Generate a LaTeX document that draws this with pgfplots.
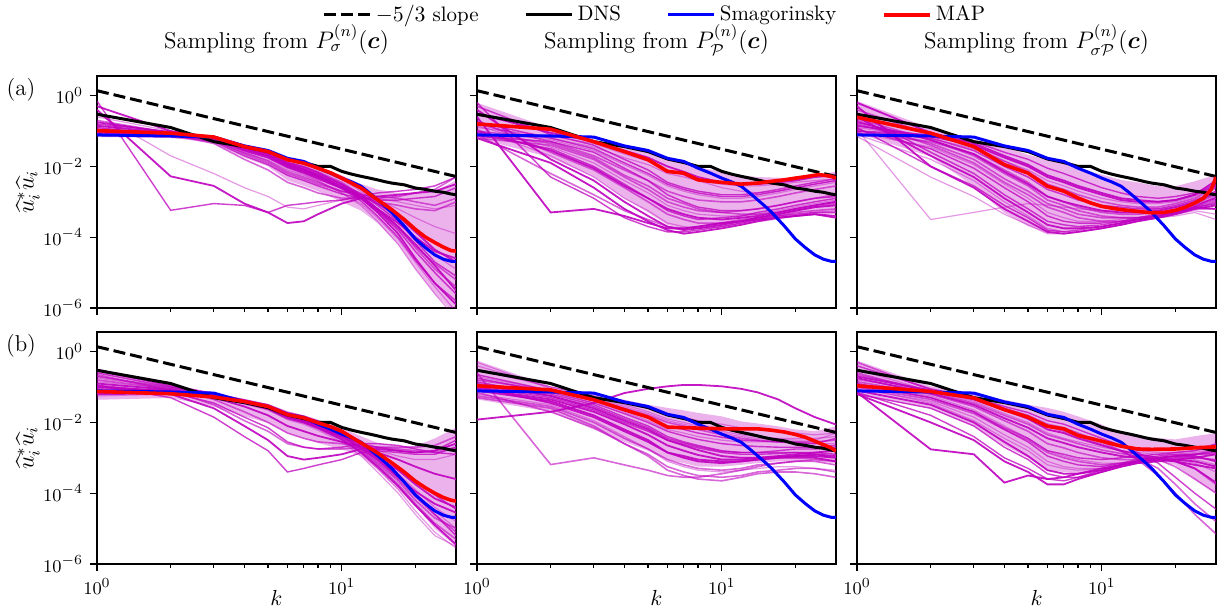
\documentclass[border=0pt]{standalone}
\usepackage{amsmath}
\usepackage{pgfplots}
\usepackage{pgfplotstable}
\pgfplotsset{compat=1.18}
\usepgfplotslibrary{groupplots,fillbetween}
\definecolor{sampc}{RGB}{191,0,191}
\definecolor{smagc}{RGB}{0,0,255}
\definecolor{mapc}{RGB}{255,0,0}

% reference curves (log10 values)
\pgfplotstableread{
k dns smag
1 -0.526 -1.11
2 -0.90 -1.14
3 -1.30 -1.17
4 -1.44 -1.42
5 -1.58 -1.55
6 -1.79 -1.77
7 -1.89 -1.86
8 -2.00 -2.05
9 -2.00 -2.19
10 -2.14 -2.33
11 -2.22 -2.44
12 -2.28 -2.56
13 -2.33 -2.75
14 -2.38 -2.94
15 -2.43 -3.12
16 -2.47 -3.30
18 -2.52 -3.68
20 -2.61 -4.05
22 -2.65 -4.30
24 -2.70 -4.50
26 -2.73 -4.62
28 -2.78 -4.68
29.3 -2.80 -4.68
}\tref

\pgfplotstableread{
k m
1 -0.99
2 -1.06
3 -1.17
4 -1.44
5 -1.58
6 -1.81
7 -1.91
8 -2.05
9 -2.18
10 -2.33
12 -2.61
14 -2.94
16 -3.22
18 -3.50
20 -3.78
22 -4.00
24 -4.15
26 -4.28
28 -4.38
29.3 -4.39
}\mA
\pgfplotstableread{
k m
1 -0.80
2 -0.95
3 -1.30
4 -1.58
5 -1.81
6 -2.14
7 -2.19
8 -2.38
9 -2.42
10 -2.45
12 -2.50
14 -2.47
16 -2.42
18 -2.38
20 -2.33
22 -2.29
25 -2.23
28 -2.28
29.3 -2.33
}\mB
\pgfplotstableread{
k m
1 -0.61
2 -1.06
3 -1.44
4 -1.95
5 -2.19
6 -2.56
7 -2.70
8 -2.89
9 -3.03
10 -3.13
12 -3.22
14 -3.27
16 -3.31
18 -3.30
20 -3.24
22 -3.15
24 -3.03
26 -2.90
28 -2.65
29.3 -2.30
}\mC
\pgfplotstableread{
k m
1 -1.125
2 -1.19
3 -1.28
4 -1.41
5 -1.55
6 -1.78
7 -1.87
8 -2.01
9 -2.12
10 -2.25
12 -2.58
14 -2.86
16 -3.14
18 -3.40
20 -3.66
22 -3.85
24 -4.00
26 -4.12
28 -4.20
29.3 -4.22
}\mD
\pgfplotstableread{
k m
1 -0.965
2 -1.08
3 -1.36
4 -1.64
5 -1.85
6 -2.13
7 -2.15
8 -2.16
10 -2.18
12 -2.18
14 -2.18
16 -2.22
18 -2.27
20 -2.34
22 -2.42
25 -2.58
28 -2.72
29.3 -2.81
}\mE
\pgfplotstableread{
k m
1 -0.965
2 -1.125
3 -1.31
4 -1.64
5 -1.85
6 -2.11
7 -2.18
8 -2.37
9 -2.45
10 -2.53
12 -2.67
14 -2.75
16 -2.76
20 -2.75
25 -2.71
29.3 -2.69
}\mF

% dense core of the sample bundles (log10 of upper and lower edge)
\pgfplotstableread{
k hi lo
1 -0.80 -1.15
2 -1.02 -1.18
3 -1.12 -1.35
4 -1.38 -1.75
5 -1.52 -2.00
6 -1.76 -2.40
7 -1.86 -2.55
8 -2.00 -2.70
10 -2.25 -3.00
12 -2.50 -3.25
14 -2.65 -3.60
17 -2.75 -4.20
20 -2.75 -4.90
24 -2.70 -5.60
29.3 -2.40 -6.20
}\eA
\pgfplotstableread{
k hi lo
1 -0.20 -1.20
2 -0.92 -1.75
3 -1.25 -2.30
4 -1.45 -2.90
5 -1.60 -3.30
6 -1.82 -3.65
7 -1.92 -3.75
8 -2.02 -3.78
10 -2.15 -3.72
12 -2.25 -3.65
14 -2.30 -3.58
17 -2.32 -3.50
20 -2.32 -3.42
24 -2.25 -3.35
29.3 -2.15 -3.35
}\eB
\pgfplotstableread{
k hi lo
1 -0.15 -1.06
2 -0.92 -1.72
3 -1.25 -2.56
4 -1.44 -3.31
5 -1.67 -3.69
6 -1.81 -3.88
7 -1.92 -3.85
8 -2.05 -3.78
10 -2.23 -3.60
12 -2.38 -3.50
14 -2.45 -3.45
17 -2.56 -3.41
20 -2.56 -3.31
24 -2.42 -3.13
29.3 -2.23 -3.13
}\eC
\pgfplotstableread{
k hi lo
1 -0.50 -1.36
2 -1.03 -1.31
3 -1.20 -1.55
4 -1.34 -1.83
5 -1.48 -2.01
6 -1.68 -2.30
7 -1.80 -2.45
8 -1.92 -2.58
10 -2.16 -2.76
12 -2.39 -2.95
14 -2.58 -3.33
17 -2.67 -3.89
20 -2.67 -4.36
24 -2.45 -5.00
29.3 -2.15 -5.50
}\eD
\pgfplotstableread{
k hi lo
1 -0.25 -1.35
2 -0.98 -1.70
3 -1.22 -2.20
4 -1.36 -2.55
5 -1.50 -2.80
6 -1.59 -3.05
7 -1.66 -3.15
8 -1.73 -3.25
10 -1.83 -3.25
12 -1.97 -3.20
14 -2.03 -3.15
17 -2.11 -3.10
20 -2.20 -3.10
24 -2.25 -3.10
29.3 -2.11 -3.15
}\eE
\pgfplotstableread{
k hi lo
1 -0.25 -1.22
2 -0.98 -1.60
3 -1.17 -2.10
4 -1.36 -2.65
5 -1.50 -3.00
6 -1.59 -3.35
7 -1.70 -3.40
8 -1.83 -3.45
10 -2.06 -3.30
12 -2.30 -3.20
14 -2.38 -3.15
17 -2.44 -3.10
20 -2.48 -3.20
24 -2.39 -3.60
29.3 -2.30 -4.00
}\eF

% samples: one row per sample, columns are k
\pgfplotstableread[header=has colnames]{
id 1 2 3 4 5 6 7 8 10 12 14 17 20 24 29.3
s1 -0.95 -1.05 -1.15 -1.40 -1.55 -1.80 -1.92 -2.08 -2.38 -2.70 -3.05 -3.50 -4.00 -4.50 -4.90
s2 -1.05 -1.10 -1.20 -1.45 -1.62 -1.88 -2.00 -2.15 -2.45 -2.80 -3.20 -3.70 -4.30 -4.90 -5.40
s3 -0.80 -1.02 -1.18 -1.50 -1.70 -1.95 -2.08 -2.22 -2.50 -2.78 -3.10 -3.55 -4.10 -4.70 -5.10
s4 -1.10 -1.15 -1.22 -1.55 -1.75 -2.02 -2.18 -2.35 -2.62 -2.90 -3.30 -3.90 -4.60 -5.30 -5.90
s5 -0.60 -1.00 -1.16 -1.45 -1.62 -1.90 -2.05 -2.25 -2.55 -2.75 -2.95 -3.20 -3.45 -3.70 -3.90
s6 -1.00 -1.08 -1.25 -1.60 -1.85 -2.15 -2.30 -2.45 -2.70 -2.85 -3.00 -3.10 -3.20 -3.25 -3.00
s7 -0.90 -1.12 -1.30 -1.70 -1.95 -2.25 -2.40 -2.55 -2.78 -2.90 -2.95 -2.95 -2.90 -2.85 -2.60
s8 -0.30 -1.00 -1.20 -1.50 -1.70 -2.00 -2.15 -2.30 -2.58 -2.82 -3.05 -3.40 -3.85 -4.35 -4.70
s9 -1.15 -1.18 -1.28 -1.62 -1.82 -2.10 -2.25 -2.42 -2.75 -3.05 -3.45 -4.05 -4.70 -5.40 -6.10
s10 -0.70 -1.05 -1.20 -1.48 -1.66 -1.95 -2.10 -2.28 -2.60 -2.92 -3.25 -3.75 -4.25 -4.75 -5.20
s11 -0.15 -3.24 -3.05 -3.10 -3.30 -3.10 -3.05 -3.00 -2.95 -2.85 -2.75 -2.70 -2.65 -2.55 -2.30
s12 -0.40 -2.28 -2.55 -3.05 -3.30 -3.60 -3.55 -3.35 -3.05 -2.90 -2.85 -2.80 -2.75 -2.70 -2.50
s13 -0.50 -1.70 -2.20 -2.60 -2.85 -3.15 -3.20 -3.10 -2.95 -2.85 -2.90 -3.00 -3.10 -3.20 -3.10
s14 -1.00 -1.10 -1.35 -1.80 -2.10 -2.45 -2.60 -2.75 -2.90 -2.90 -2.90 -2.85 -2.75 -2.65 -2.30
s15 -1.08 -1.12 -1.22 -1.52 -1.70 -1.98 -2.12 -2.30 -2.62 -2.98 -3.40 -4.00 -4.65 -5.30 -5.80
s16 -0.85 -1.06 -1.17 -1.46 -1.62 -1.90 -2.02 -2.18 -2.50 -2.84 -3.20 -3.70 -4.20 -4.80 -5.50
s17 -1.12 -1.14 -1.24 -1.56 -1.76 -2.05 -2.22 -2.40 -2.75 -3.10 -3.55 -4.20 -4.90 -5.60 -6.30
s18 -0.95 -1.08 -1.26 -1.65 -1.90 -2.20 -2.35 -2.50 -2.70 -2.80 -2.85 -2.90 -3.00 -3.10 -2.90
s19 -1.05 -1.10 -1.21 -1.50 -1.68 -1.96 -2.10 -2.25 -2.55 -2.88 -3.25 -3.80 -4.40 -5.00 -5.60
s20 -0.75 -1.04 -1.19 -1.48 -1.65 -1.93 -2.08 -2.25 -2.58 -2.88 -3.20 -3.60 -4.00 -4.40 -4.60
}\rawA
\pgfplotstableread[header=has colnames]{
id 1 2 3 4 5 6 7 8 10 12 14 17 20 24 29.3
s1 -1.00 -1.20 -1.45 -1.75 -1.95 -2.20 -2.30 -2.40 -2.50 -2.55 -2.55 -2.50 -2.45 -2.40 -2.35
s2 -0.80 -1.30 -1.70 -2.10 -2.40 -2.70 -2.85 -2.95 -3.00 -3.00 -2.95 -2.85 -2.75 -2.65 -2.55
s3 -1.10 -1.50 -2.00 -2.50 -2.90 -3.25 -3.40 -3.50 -3.45 -3.40 -3.30 -3.20 -3.10 -3.00 -2.90
s4 -0.40 -1.80 -2.40 -3.00 -3.40 -3.70 -3.80 -3.75 -3.65 -3.55 -3.45 -3.35 -3.25 -3.15 -3.10
s5 -0.90 -1.15 -1.35 -1.65 -1.85 -2.10 -2.25 -2.40 -2.60 -2.70 -2.75 -2.70 -2.60 -2.50 -2.40
s6 -1.20 -1.40 -1.80 -2.30 -2.65 -3.00 -3.15 -3.25 -3.30 -3.25 -3.20 -3.10 -3.00 -2.90 -2.80
s7 -0.20 -2.30 -2.90 -3.45 -3.70 -3.85 -3.85 -3.80 -3.70 -3.60 -3.50 -3.40 -3.35 -3.30 -3.30
s8 -0.60 -3.30 -3.20 -3.40 -3.60 -3.75 -3.75 -3.70 -3.60 -3.55 -3.50 -3.45 -3.40 -3.35 -3.45
s9 -1.00 -1.25 -1.55 -1.95 -2.25 -2.55 -2.70 -2.80 -2.90 -2.90 -2.85 -2.75 -2.65 -2.55 -2.45
s10 -0.70 -1.60 -2.10 -2.60 -3.00 -3.35 -3.50 -3.60 -3.60 -3.55 -3.45 -3.35 -3.25 -3.15 -3.05
s11 -1.15 -1.30 -1.60 -2.05 -2.40 -2.80 -3.00 -3.15 -3.25 -3.25 -3.20 -3.10 -3.00 -2.90 -2.85
s12 -0.50 -1.05 -1.30 -1.55 -1.75 -2.00 -2.15 -2.30 -2.45 -2.50 -2.50 -2.45 -2.40 -2.30 -2.25
s13 -0.95 -1.70 -2.30 -2.90 -3.25 -3.60 -3.70 -3.75 -3.70 -3.60 -3.55 -3.45 -3.40 -3.30 -3.25
s14 -1.05 -1.35 -1.75 -2.25 -2.55 -2.90 -3.05 -3.20 -3.30 -3.35 -3.35 -3.30 -3.20 -3.10 -3.00
s15 -0.30 -1.10 -1.40 -1.80 -2.10 -2.45 -2.60 -2.70 -2.80 -2.80 -2.75 -2.65 -2.55 -2.45 -2.35
s16 -1.20 -1.90 -2.60 -3.20 -3.55 -3.80 -3.90 -3.85 -3.75 -3.65 -3.55 -3.45 -3.40 -3.35 -3.40
s17 -0.85 -1.45 -1.90 -2.40 -2.75 -3.10 -3.25 -3.35 -3.40 -3.40 -3.35 -3.25 -3.15 -3.05 -2.95
s18 -1.10 -2.20 -2.80 -3.25 -3.50 -3.70 -3.75 -3.70 -3.60 -3.50 -3.45 -3.40 -3.30 -3.25 -3.20
s19 -0.75 -1.20 -1.50 -1.90 -2.20 -2.50 -2.65 -2.75 -2.85 -2.85 -2.80 -2.70 -2.60 -2.50 -2.40
s20 -1.00 -1.55 -2.05 -2.55 -2.90 -3.20 -3.35 -3.45 -3.50 -3.45 -3.40 -3.30 -3.20 -3.10 -3.00
}\rawB
\pgfplotstableread[header=has colnames]{
id 1 2 3 4 5 6 7 8 10 12 14 17 20 24 29.3
s1 -0.90 -1.20 -1.50 -1.85 -2.10 -2.40 -2.55 -2.70 -2.90 -3.00 -3.05 -3.05 -3.00 -2.85 -2.60
s2 -0.70 -1.40 -1.90 -2.45 -2.80 -3.15 -3.30 -3.45 -3.55 -3.55 -3.50 -3.45 -3.35 -3.20 -3.00
s3 -1.00 -1.10 -1.30 -1.60 -1.80 -2.05 -2.20 -2.35 -2.60 -2.75 -2.85 -2.90 -2.85 -2.75 -2.50
s4 -0.30 -2.00 -2.60 -3.20 -3.55 -3.85 -3.90 -3.85 -3.75 -3.65 -3.55 -3.45 -3.35 -3.20 -3.10
s5 -0.95 -3.50 -3.30 -3.15 -3.05 -3.10 -3.15 -3.20 -3.25 -3.25 -3.25 -3.20 -3.15 -3.05 -2.90
s6 -1.05 -1.30 -1.65 -2.10 -2.45 -2.85 -3.00 -3.15 -3.30 -3.35 -3.35 -3.30 -3.20 -3.05 -2.80
s7 -0.50 -1.60 -2.20 -2.80 -3.20 -3.55 -3.65 -3.70 -3.65 -3.55 -3.45 -3.35 -3.25 -3.10 -2.90
s8 -0.85 -1.15 -1.40 -1.75 -2.00 -2.30 -2.45 -2.60 -2.80 -2.95 -3.00 -3.00 -2.95 -2.80 -2.55
s9 -1.10 -1.80 -2.40 -3.00 -3.40 -3.75 -3.85 -3.85 -3.75 -3.65 -3.55 -3.45 -3.35 -3.25 -3.35
s10 -0.65 -1.25 -1.70 -2.20 -2.55 -2.95 -3.10 -3.25 -3.40 -3.45 -3.45 -3.40 -3.30 -3.15 -2.95
s11 -0.95 -1.50 -2.05 -2.60 -3.00 -3.40 -3.55 -3.60 -3.60 -3.55 -3.50 -3.40 -3.30 -3.15 -3.05
s12 -0.20 -1.05 -1.35 -1.70 -1.95 -2.25 -2.40 -2.55 -2.75 -2.90 -2.95 -3.00 -2.95 -2.80 -2.40
s13 -1.15 -2.30 -2.85 -3.35 -3.65 -3.90 -3.90 -3.85 -3.75 -3.65 -3.55 -3.45 -3.40 -3.30 -3.50
s14 -0.80 -1.35 -1.80 -2.35 -2.70 -3.05 -3.20 -3.35 -3.45 -3.45 -3.45 -3.40 -3.30 -3.15 -2.85
s15 -1.00 -1.20 -1.55 -2.00 -2.30 -2.65 -2.80 -2.95 -3.10 -3.15 -3.20 -3.20 -3.10 -2.95 -2.70
s16 -0.60 -1.70 -2.30 -2.90 -3.30 -3.65 -3.75 -3.75 -3.70 -3.60 -3.50 -3.40 -3.30 -3.15 -3.20
s17 -1.05 -1.45 -1.95 -2.50 -2.90 -3.30 -3.45 -3.55 -3.55 -3.50 -3.45 -3.35 -3.25 -3.10 -2.90
s18 -0.40 -1.10 -1.45 -1.85 -2.15 -2.50 -2.65 -2.80 -3.00 -3.10 -3.15 -3.15 -3.05 -2.90 -2.60
s19 -0.90 -2.00 -2.55 -3.10 -3.45 -3.80 -3.85 -3.80 -3.70 -3.60 -3.50 -3.40 -3.30 -3.20 -3.20
s20 -0.75 -1.25 -1.65 -2.15 -2.50 -2.85 -3.00 -3.10 -3.25 -3.30 -3.30 -3.25 -3.15 -3.00 -2.75
}\rawC
\pgfplotstableread[header=has colnames]{
id 1 2 3 4 5 6 7 8 10 12 14 17 20 24 29.3
s1 -0.70 -1.00 -1.20 -1.38 -1.52 -1.75 -1.85 -2.00 -2.28 -2.62 -2.95 -3.45 -3.90 -4.40 -4.80
s2 -1.00 -1.10 -1.25 -1.42 -1.58 -1.82 -1.93 -2.08 -2.38 -2.75 -3.10 -3.60 -4.10 -4.60 -5.10
s3 -0.55 -0.95 -1.18 -1.36 -1.50 -1.72 -1.82 -1.96 -2.22 -2.55 -2.85 -3.25 -3.65 -4.05 -4.45
s4 -1.20 -1.18 -1.28 -1.45 -1.62 -1.88 -2.00 -2.16 -2.48 -2.85 -3.25 -3.80 -4.35 -4.90 -5.45
s5 -0.85 -1.05 -1.22 -1.40 -1.56 -1.80 -1.92 -2.06 -2.32 -2.60 -2.80 -2.95 -3.05 -3.05 -2.90
s6 -0.65 -1.10 -1.50 -1.95 -2.25 -2.60 -2.70 -2.75 -2.75 -2.70 -2.70 -2.70 -2.70 -2.65 -2.40
s7 -0.95 -1.30 -1.85 -2.40 -2.80 -3.40 -3.30 -3.20 -3.05 -2.85 -2.80 -2.85 -2.90 -2.90 -2.70
s8 -1.10 -1.20 -1.60 -2.10 -2.50 -2.95 -3.05 -3.00 -2.90 -2.75 -2.75 -2.80 -2.85 -2.80 -2.60
s9 -0.75 -1.02 -1.21 -1.39 -1.55 -1.78 -1.90 -2.05 -2.35 -2.68 -3.00 -3.50 -4.00 -4.50 -5.00
s10 -1.05 -1.12 -1.26 -1.44 -1.60 -1.85 -1.97 -2.12 -2.45 -2.82 -3.20 -3.75 -4.30 -4.85 -5.30
s11 -0.60 -1.00 -1.20 -1.40 -1.60 -1.85 -2.00 -2.15 -2.40 -2.60 -2.70 -2.80 -2.85 -2.80 -2.50
s12 -0.90 -1.08 -1.24 -1.42 -1.57 -1.80 -1.92 -2.06 -2.36 -2.72 -3.05 -3.55 -3.95 -4.30 -4.55
s13 -1.15 -1.15 -1.27 -1.46 -1.63 -1.90 -2.02 -2.18 -2.50 -2.88 -3.30 -3.90 -4.50 -5.10 -5.55
s14 -0.80 -1.05 -1.35 -1.70 -2.00 -2.30 -2.45 -2.55 -2.60 -2.65 -2.70 -2.75 -2.80 -2.85 -2.70
s15 -0.50 -0.98 -1.19 -1.37 -1.52 -1.76 -1.88 -2.02 -2.30 -2.65 -3.00 -3.50 -4.05 -4.60 -5.20
s16 -1.00 -1.12 -1.30 -1.55 -1.80 -2.10 -2.25 -2.38 -2.55 -2.70 -2.85 -3.05 -3.25 -3.45 -3.60
s17 -1.25 -1.20 -1.30 -1.48 -1.65 -1.92 -2.05 -2.22 -2.55 -2.95 -3.40 -4.00 -4.60 -5.20 -5.50
s18 -0.70 -1.03 -1.22 -1.41 -1.58 -1.83 -1.95 -2.10 -2.42 -2.78 -3.15 -3.65 -4.20 -4.70 -5.00
s19 -0.95 -1.15 -1.45 -1.85 -2.15 -2.55 -2.70 -2.75 -2.70 -2.60 -2.60 -2.65 -2.75 -2.85 -2.90
s20 -1.10 -1.10 -1.23 -1.43 -1.59 -1.84 -1.96 -2.12 -2.40 -2.70 -2.98 -3.35 -3.75 -4.15 -4.40
}\rawD
\pgfplotstableread[header=has colnames]{
id 1 2 3 4 5 6 7 8 10 12 14 17 20 24 29.3
s1 -0.40 -1.00 -1.25 -1.50 -1.70 -1.90 -2.00 -2.10 -2.25 -2.35 -2.40 -2.45 -2.45 -2.45 -2.40
s2 -0.80 -1.10 -1.35 -1.60 -1.80 -2.00 -2.10 -2.20 -2.35 -2.45 -2.50 -2.55 -2.55 -2.55 -2.50
s3 -1.00 -1.30 -1.65 -2.00 -2.25 -2.50 -2.62 -2.72 -2.85 -2.90 -2.90 -2.88 -2.85 -2.85 -2.90
s4 -1.92 -1.70 -1.45 -1.17 -1.05 -0.98 -0.94 -0.94 -0.98 -1.05 -1.15 -1.35 -1.60 -1.85 -2.06
s5 -1.20 -1.50 -1.95 -2.40 -2.75 -3.10 -3.25 -3.35 -3.40 -3.35 -3.30 -3.25 -3.25 -3.30 -3.35
s6 -0.60 -3.19 -3.00 -3.20 -3.35 -3.50 -3.55 -3.55 -3.45 -3.35 -3.25 -3.15 -3.10 -3.05 -3.10
s7 -0.90 -1.20 -1.50 -1.85 -2.10 -2.40 -2.55 -2.65 -2.80 -2.85 -2.85 -2.80 -2.75 -2.75 -2.70
s8 -1.10 -1.40 -1.80 -2.20 -2.50 -2.85 -3.00 -3.10 -3.15 -3.10 -3.05 -3.00 -3.00 -3.00 -3.10
s9 -0.30 -1.05 -1.30 -1.55 -1.75 -1.95 -2.05 -2.15 -2.30 -2.40 -2.45 -2.48 -2.50 -2.50 -2.30
s10 -1.30 -1.60 -2.10 -2.60 -2.95 -3.35 -3.50 -3.60 -3.65 -3.55 -3.45 -3.40 -3.40 -3.45 -3.55
s11 -0.75 -1.15 -1.45 -1.75 -2.00 -2.25 -2.38 -2.48 -2.60 -2.65 -2.68 -2.70 -2.70 -2.70 -2.65
s12 -0.95 -1.25 -1.60 -1.95 -2.20 -2.50 -2.65 -2.78 -2.95 -3.00 -3.00 -2.98 -2.95 -2.95 -3.00
s13 -0.50 -1.00 -1.20 -1.40 -1.55 -1.75 -1.85 -1.95 -2.05 -2.15 -2.20 -2.25 -2.30 -2.35 -2.30
s14 -1.15 -1.70 -2.15 -2.60 -2.90 -3.25 -3.40 -3.50 -3.55 -3.50 -3.40 -3.35 -3.30 -3.30 -3.40
s15 -0.85 -1.25 -1.55 -1.90 -2.15 -2.45 -2.58 -2.68 -2.82 -2.85 -2.85 -2.85 -2.85 -2.90 -3.00
s16 -1.05 -1.35 -1.70 -2.05 -2.35 -2.65 -2.80 -2.92 -3.05 -3.05 -3.00 -2.95 -2.90 -2.85 -2.80
s17 -0.70 -1.10 -1.40 -1.70 -1.95 -2.20 -2.30 -2.40 -2.50 -2.55 -2.55 -2.55 -2.55 -2.60 -2.60
s18 -1.25 -1.55 -2.00 -2.45 -2.75 -3.05 -3.20 -3.30 -3.35 -3.30 -3.20 -3.15 -3.10 -3.10 -3.20
s19 -0.65 -1.10 -1.35 -1.65 -1.85 -2.10 -2.20 -2.30 -2.42 -2.50 -2.52 -2.55 -2.58 -2.60 -2.45
s20 -1.00 -1.45 -1.85 -2.25 -2.55 -2.85 -2.95 -3.05 -3.10 -3.10 -3.05 -3.00 -2.95 -2.90 -2.95
}\rawE
\pgfplotstableread[header=has colnames]{
id 1 2 3 4 5 6 7 8 10 12 14 17 20 24 29.3
s1 -0.80 -1.10 -1.35 -1.65 -1.85 -2.10 -2.20 -2.35 -2.55 -2.70 -2.80 -2.85 -2.85 -2.80 -2.70
s2 -1.00 -1.35 -1.75 -2.20 -2.50 -2.85 -3.00 -3.10 -3.20 -3.15 -3.10 -3.00 -2.95 -2.90 -2.90
s3 -0.40 -1.05 -1.30 -1.55 -1.72 -1.95 -2.05 -2.20 -2.45 -2.65 -2.85 -3.15 -3.55 -4.00 -4.45
s4 -1.15 -2.76 -2.90 -3.70 -3.50 -3.60 -3.55 -3.45 -3.30 -3.20 -3.10 -3.00 -2.95 -2.95 -3.10
s5 -0.90 -1.25 -1.65 -2.10 -2.45 -2.80 -2.95 -3.05 -3.15 -3.15 -3.10 -3.05 -3.05 -3.15 -3.40
s6 -0.60 -1.15 -1.45 -1.80 -2.05 -2.35 -2.48 -2.60 -2.78 -2.88 -2.95 -3.05 -3.25 -3.60 -4.00
s7 -1.20 -1.60 -2.10 -2.70 -3.05 -3.45 -3.55 -3.55 -3.40 -3.25 -3.15 -3.05 -3.00 -3.00 -3.05
s8 -0.70 -1.10 -1.35 -1.65 -1.90 -2.20 -2.30 -2.45 -2.65 -2.80 -2.90 -3.00 -3.10 -3.20 -3.30
s9 -1.05 -1.40 -1.85 -2.35 -2.70 -3.10 -3.25 -3.30 -3.30 -3.20 -3.10 -3.00 -2.95 -2.90 -2.75
s10 -0.30 -1.08 -1.32 -1.60 -1.80 -2.05 -2.15 -2.30 -2.55 -2.80 -3.05 -3.50 -4.00 -4.60 -5.15
s11 -0.95 -1.30 -1.70 -2.15 -2.45 -2.80 -2.90 -3.00 -3.05 -3.00 -2.95 -2.90 -2.85 -2.80 -2.60
s12 -1.10 -1.50 -2.00 -2.55 -2.95 -3.35 -3.45 -3.45 -3.35 -3.20 -3.10 -3.05 -3.10 -3.30 -3.70
s13 -0.50 -1.12 -1.40 -1.75 -2.00 -2.30 -2.45 -2.55 -2.70 -2.80 -2.85 -2.90 -2.90 -2.85 -2.75
s14 -0.85 -1.20 -1.55 -1.95 -2.25 -2.60 -2.72 -2.85 -3.00 -3.05 -3.05 -3.05 -3.10 -3.30 -3.75
s15 -1.15 -1.80 -2.40 -3.00 -3.30 -3.60 -3.65 -3.55 -3.35 -3.20 -3.10 -3.00 -2.95 -2.90 -2.85
s16 -0.75 -1.18 -1.50 -1.88 -2.15 -2.45 -2.58 -2.70 -2.85 -2.95 -3.00 -3.05 -3.05 -3.00 -2.90
s17 -1.00 -1.45 -1.95 -2.45 -2.80 -3.20 -3.30 -3.35 -3.30 -3.20 -3.10 -3.05 -3.00 -3.05 -3.20
s18 -0.65 -1.10 -1.33 -1.62 -1.85 -2.12 -2.25 -2.40 -2.62 -2.82 -3.00 -3.30 -3.75 -4.30 -4.80
s19 -0.90 -1.30 -1.70 -2.20 -2.55 -2.95 -3.10 -3.20 -3.25 -3.15 -3.05 -2.95 -2.90 -2.90 -2.80
s20 -1.20 -2.00 -2.50 -3.10 -3.40 -3.75 -3.75 -3.60 -3.40 -3.25 -3.15 -3.10 -3.05 -3.10 -3.25
}\rawF
\pgfplotstabletranspose[colnames from=id,input colnames to=k]{\tA}{\rawA}
\pgfplotstabletranspose[colnames from=id,input colnames to=k]{\tB}{\rawB}
\pgfplotstabletranspose[colnames from=id,input colnames to=k]{\tC}{\rawC}
\pgfplotstabletranspose[colnames from=id,input colnames to=k]{\tD}{\rawD}
\pgfplotstabletranspose[colnames from=id,input colnames to=k]{\tE}{\rawE}
\pgfplotstabletranspose[colnames from=id,input colnames to=k]{\tF}{\rawF}

\pgfplotsset{
  sampA/.style={color=sampc, line width=0.6bp, opacity=0.4, forget plot},
  sampB/.style={color=sampc, line width=0.8bp, opacity=0.6, forget plot},
  sampC/.style={color=sampc, line width=0.7bp, opacity=0.75, forget plot},
  sampD/.style={color=sampc, line width=0.9bp, opacity=0.9, forget plot},
  legend image code/.code={\draw[#1] (0bp,0bp) -- (23bp,0bp);},
}
\newcommand\drawsamples[2]{%
  \addplot[name path=hi, draw=none, forget plot] table[x=k,y expr={10^(\thisrow{hi})}]{#2};
  \addplot[name path=lo, draw=none, forget plot] table[x=k,y expr={10^(\thisrow{lo})}]{#2};
  \addplot[fill=sampc, fill opacity=0.3, draw=none, forget plot] fill between[of=hi and lo];
  \pgfplotsinvokeforeach{1,5,9,13,17}{\addplot[sampA] table[x=k,y expr={10^(\thisrow{s##1})}]{#1};}%
  \pgfplotsinvokeforeach{2,6,10,14,18}{\addplot[sampB] table[x=k,y expr={10^(\thisrow{s##1})}]{#1};}%
  \pgfplotsinvokeforeach{3,7,11,15,19}{\addplot[sampC] table[x=k,y expr={10^(\thisrow{s##1})}]{#1};}%
  \pgfplotsinvokeforeach{4,8,12,16,20}{\addplot[sampD] table[x=k,y expr={10^(\thisrow{s##1})}]{#1};}%
}
\newcommand\drawrefs[1]{%
  \addplot[black, dash pattern=on 6bp off 2.5bp, line width=1.5bp] coordinates {(1,1.38) (29.3,0.0052)};
  \addplot[black, line width=1.5bp] table[x=k,y expr={10^(\thisrow{dns})}]{\tref};
  \addplot[smagc, line width=1.5bp] table[x=k,y expr={10^(\thisrow{smag})}]{\tref};
  \addplot[mapc, line width=1.8bp] table[x=k,y expr={10^(\thisrow{m})}]{#1};
}

\begin{document}
\begin{tikzpicture}
\begin{groupplot}[
  group style={group name=G, group size=3 by 2, horizontal sep=10.5bp, vertical sep=12bp,
    xticklabels at=edge bottom, yticklabels at=edge left, xlabels at=edge bottom, ylabels at=edge left},
  scale only axis, width=179.5bp, height=116bp,
  xmode=log, ymode=log, xmin=1, xmax=29.3, ymin=1e-6, ymax=3.59,
  xtick={1,10}, minor xtick={2,3,4,5,6,7,8,9,20},
  ytick={1e-6,1e-4,1e-2,1},
  tick align=outside, tick pos=left,
  major tick length=3.5bp, minor tick length=2bp,
  every tick/.style={black, line width=0.6bp},
  axis line style={line width=0.9bp},
  tick label style={font=\fontsize{9.3}{11}\selectfont},
  title style={at={(0.5,1)}, anchor=base, yshift=7.7bp, font=\fontsize{11.5}{13}\selectfont},
  xlabel={$k$}, ylabel={${\widehat{u}_i}^{*}\widehat{u}_i$},
  xlabel style={at={(axis description cs:0.5,0)}, anchor=base, yshift=-20.5bp, font=\fontsize{11}{13}\selectfont},
  ylabel style={at={([xshift=-28.5bp]axis description cs:0,0.5)}, anchor=south, inner sep=0pt, font=\fontsize{11.5}{13}\selectfont},
]
\nextgroupplot[title={Sampling from $P_{\sigma}^{(n)}(\boldsymbol{c})$},
  legend columns=4,
  legend entries={$-5/3$ slope, DNS, Smagorinsky, MAP},
  legend style={draw=none, fill=none, at={(1.557,1.263)}, anchor=center,
    font=\fontsize{10.5}{12}\selectfont,
    /tikz/every even column/.append style={column sep=21bp}}]
\drawsamples{\tA}{\eA}
\drawrefs{\mA}
\nextgroupplot[title={Sampling from $P_{\mathcal{P}}^{(n)}(\boldsymbol{c})$}]
\drawsamples{\tB}{\eB}
\drawrefs{\mB}
\nextgroupplot[title={Sampling from $P_{\sigma\mathcal{P}}^{(n)}(\boldsymbol{c})$}]
\drawsamples{\tC}{\eC}
\drawrefs{\mC}
\nextgroupplot
\drawsamples{\tD}{\eD}
\drawrefs{\mD}
\nextgroupplot
\drawsamples{\tE}{\eE}
\drawrefs{\mE}
\nextgroupplot
\drawsamples{\tF}{\eF}
\drawrefs{\mF}
\end{groupplot}
\node[font=\fontsize{11.5}{13}\selectfont] at ([xshift=-38bp,yshift=-7bp]G c1r1.north west) {(a)};
\node[font=\fontsize{11.5}{13}\selectfont] at ([xshift=-38bp,yshift=-7bp]G c1r2.north west) {(b)};
\pgfresetboundingbox
\path ([xshift=-48.5bp,yshift=38bp]G c1r1.north west) rectangle ([xshift=563.5bp,yshift=-267.5bp]G c1r1.north west);
\end{tikzpicture}
\end{document}
